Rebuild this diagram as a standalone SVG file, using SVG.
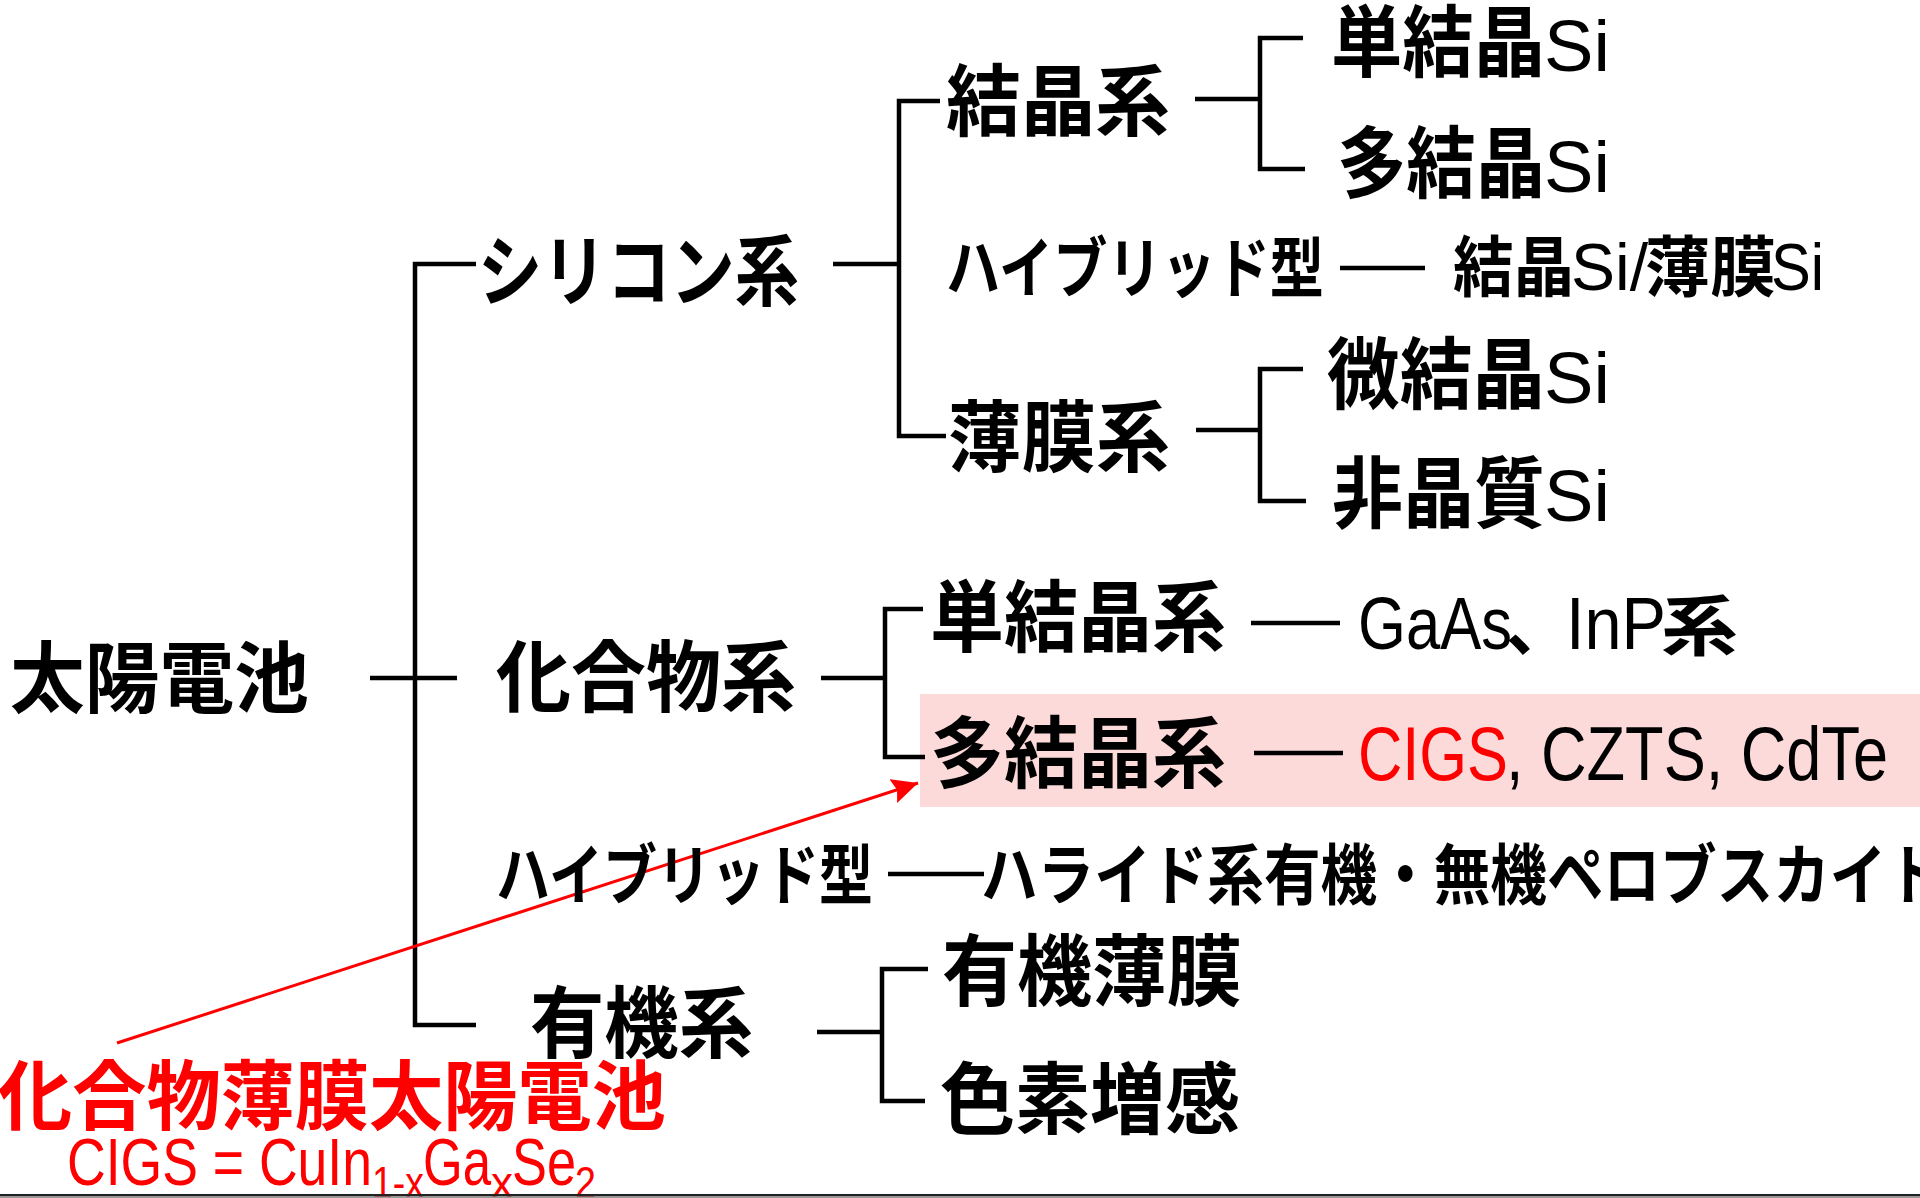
<svg xmlns="http://www.w3.org/2000/svg" width="1920" height="1198" viewBox="0 0 1920 1198">
<defs>
<style>
.j{font-family:"Noto Sans CJK JP","Noto Sans CJK SC",sans-serif;font-weight:700;fill:#000}
.L{font-size:78px}
.M{font-size:66px}
.l{font-family:"Liberation Sans Narrow","Liberation Sans",Arial,sans-serif;font-weight:400;fill:#000}
.si{font-size:72px}
.red{fill:#ff0000}
.ln{fill:none;stroke:#000;stroke-width:4.5;stroke-linejoin:miter;stroke-linecap:butt}
</style>
<marker id="ah" markerUnits="userSpaceOnUse" markerWidth="28" markerHeight="26" refX="26" refY="13" orient="auto">
<path d="M0,0.5 L26,13 L0,25.5 L4,13 Z" fill="#ff0000"/>
</marker>
</defs>
<rect width="1920" height="1198" fill="#fff"/>
<rect id="highlight" x="920" y="694" width="1000" height="113" fill="#fcdada"/>

<g id="connectors">
<path class="ln" d="M370,678 H457"/>
<path class="ln" d="M476,264 H415 V1025 H476"/>
<path class="ln" d="M833,264 H899"/>
<path class="ln" d="M940,101 H899 V436 H946"/>
<path class="ln" d="M1195,99 H1260"/>
<path class="ln" d="M1303,38 H1260 V169 H1305"/>
<path class="ln" d="M1196,430 H1260"/>
<path class="ln" d="M1303,369 H1260 V501 H1306"/>
<path class="ln" d="M821,678 H885"/>
<path class="ln" d="M923,609 H885 V757 H925"/>
<path class="ln" d="M817,1032 H882"/>
<path class="ln" d="M928,969 H882 V1101 H925"/>
<path class="ln" d="M1340,268 H1425"/>
<path class="ln" d="M1251,623 H1340"/>
<path class="ln" d="M1254,753 H1343"/>
<path class="ln" d="M888,874 H984"/>
<line x1="117" y1="1043" x2="918" y2="783" stroke="#ff0000" stroke-width="3" marker-end="url(#ah)"/>
</g>

<g id="n-taiyou"><text class="j L" x="10" y="707" textLength="299" lengthAdjust="spacingAndGlyphs">太陽電池</text></g>
<g id="n-silicon"><text class="j L" x="478" y="300" textLength="321" lengthAdjust="spacingAndGlyphs">シリコン系</text></g>
<g id="n-compound"><text class="j L" x="496" y="706" textLength="300" lengthAdjust="spacingAndGlyphs">化合物系</text></g>
<g id="n-hybrid2"><text class="j M" x="496" y="899" textLength="377" lengthAdjust="spacingAndGlyphs">ハイブリッド型</text></g>
<g id="n-organic"><text class="j L" x="530" y="1052" textLength="223" lengthAdjust="spacingAndGlyphs">有機系</text></g>

<g id="n-kesshou"><text class="j L" x="946" y="130" textLength="224" lengthAdjust="spacingAndGlyphs">結晶系</text></g>
<g id="n-hybrid1"><text class="j M" x="946" y="292" textLength="378" lengthAdjust="spacingAndGlyphs">ハイブリッド型</text></g>
<g id="n-hakumaku"><text class="j L" x="948" y="466" textLength="222" lengthAdjust="spacingAndGlyphs">薄膜系</text></g>

<g id="n-tan-si"><text class="j L" x="1331" y="71" textLength="214" lengthAdjust="spacingAndGlyphs">単結晶</text><text class="l si" x="1544" y="71" textLength="66" lengthAdjust="spacingAndGlyphs">Si</text></g>
<g id="n-ta-si"><text class="j L" x="1337" y="192" textLength="208" lengthAdjust="spacingAndGlyphs">多結晶</text><text class="l si" x="1544" y="192" textLength="66" lengthAdjust="spacingAndGlyphs">Si</text></g>
<g id="n-hybrid-si"><text class="j M" x="1453" y="291" textLength="121" lengthAdjust="spacingAndGlyphs">結晶</text><text class="l" font-size="66" x="1571" y="290" textLength="77" lengthAdjust="spacingAndGlyphs">Si/</text><text class="j M" x="1645" y="291" textLength="131" lengthAdjust="spacingAndGlyphs">薄膜</text><text class="l" font-size="66" x="1771" y="290" textLength="53" lengthAdjust="spacingAndGlyphs">Si</text></g>
<g id="n-bi-si"><text class="j L" x="1327" y="403" textLength="218" lengthAdjust="spacingAndGlyphs">微結晶</text><text class="l si" x="1544" y="403" textLength="66" lengthAdjust="spacingAndGlyphs">Si</text></g>
<g id="n-hi-si"><text class="j L" x="1332" y="522" textLength="213" lengthAdjust="spacingAndGlyphs">非晶質</text><text class="l si" x="1544" y="521" textLength="66" lengthAdjust="spacingAndGlyphs">Si</text></g>

<g id="n-tankesshou"><text class="j L" x="930" y="646" textLength="296" lengthAdjust="spacingAndGlyphs">単結晶系</text></g>
<g id="n-gaas"><text class="l" font-size="74" x="1358" y="649" textLength="154" lengthAdjust="spacingAndGlyphs">GaAs</text><text class="j M" x="1506" y="650">、</text><text class="l" font-size="74" x="1566" y="649" textLength="100" lengthAdjust="spacingAndGlyphs">InP</text><text class="j M" x="1661" y="650" textLength="77" lengthAdjust="spacingAndGlyphs">系</text></g>
<g id="n-takesshou"><text class="j L" x="930" y="782" textLength="296" lengthAdjust="spacingAndGlyphs">多結晶系</text></g>
<g id="n-cigs"><text class="l red" font-size="76" x="1358" y="780" textLength="150" lengthAdjust="spacingAndGlyphs">CIGS</text><text class="l" font-size="76" x="1506" y="780" textLength="382" lengthAdjust="spacingAndGlyphs">, CZTS, CdTe</text></g>
<g id="n-perovskite"><text class="j M" x="981" y="899" textLength="962" lengthAdjust="spacingAndGlyphs">ハライド系有機・無機ペロブスカイト</text></g>
<g id="n-yuuki-hakumaku"><text class="j L" x="942" y="1000" textLength="300" lengthAdjust="spacingAndGlyphs">有機薄膜</text></g>
<g id="n-shikiso"><text class="j L" x="940" y="1128" textLength="300" lengthAdjust="spacingAndGlyphs">色素増感</text></g>

<g id="n-note">
<text class="j red" font-size="76" x="-2" y="1124" textLength="668" lengthAdjust="spacingAndGlyphs">化合物薄膜太陽電池</text>
<text class="l red" font-size="66" x="67" y="1185" textLength="305" lengthAdjust="spacingAndGlyphs">CIGS = CuIn</text>
<text class="l red" font-size="44" x="372" y="1198" textLength="52" lengthAdjust="spacingAndGlyphs">1-x</text>
<text class="l red" font-size="66" x="423" y="1185" textLength="68" lengthAdjust="spacingAndGlyphs">Ga</text>
<text class="l red" font-size="44" x="491" y="1198" textLength="22" lengthAdjust="spacingAndGlyphs">x</text>
<text class="l red" font-size="66" x="512" y="1185" textLength="64" lengthAdjust="spacingAndGlyphs">Se</text>
<text class="l red" font-size="44" x="575" y="1198" textLength="21" lengthAdjust="spacingAndGlyphs">2</text>
</g>
<rect x="0" y="1194" width="1920" height="2.5" fill="#222"/>
<rect x="0" y="1196.5" width="1920" height="1.5" fill="#999"/>
</svg>
